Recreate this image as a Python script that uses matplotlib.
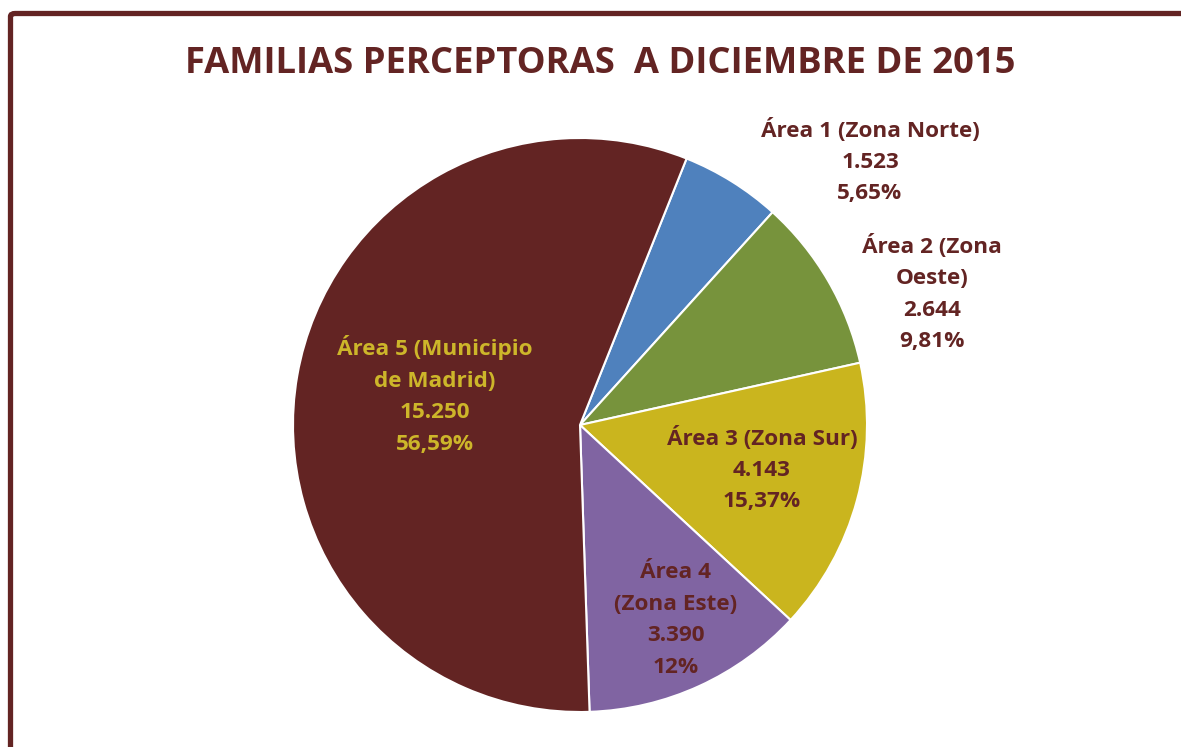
import matplotlib.pyplot as plt
from matplotlib.patches import FancyBboxPatch

plt.rcParams['font.family'] = ['Open Sans', 'DejaVu Sans']

areas = ["Área 1 (Zona Norte)", "Área 2 (Zona\nOeste)", "Área 3 (Zona Sur)",
         "Área 4\n(Zona Este)", "Área 5 (Municipio\nde Madrid)"]
familias = [1523, 2644, 4143, 3390, 15250]
pct_labels = ["5,65%", "9,81%", "15,37%", "12%", "56,59%"]
colores = ["#4F81BD", "#77933C", "#CAB51E", "#8064A2", "#632423"]
txt_colores = ["#632423", "#632423", "#632423", "#632423", "#CDB62A"]
# label centres in pixels (x, y from top)
label_pos = [(870, 161), (932, 293), (762, 469), (676, 620), (435, 395)]

W, H = 1181, 747
fig = plt.figure(figsize=(W / 100, H / 100), dpi=100)

cx, cy, r = 580, 425, 287
ax = fig.add_axes([(cx - r) / W, (H - cy - r) / H, 2 * r / W, 2 * r / H])
ax.pie(familias, colors=colores, startangle=68.2, counterclock=False,
       radius=1, wedgeprops=dict(edgecolor="white", linewidth=1.5))
ax.set_xlim(-1, 1)
ax.set_ylim(-1, 1)
ax.axis("off")

for i in range(len(areas)):
    num = f"{familias[i]:,}".replace(",", ".")
    s = areas[i] + "\n" + num + "\n" + pct_labels[i]
    x, y = label_pos[i]
    fig.text(x / W, 1 - y / H, s, ha="center", va="center", fontsize=16.2,
             fontweight="bold", color=txt_colores[i], linespacing=1.65)

fig.text(600 / W, 1 - 64 / H, "FAMILIAS PERCEPTORAS  A DICIEMBRE DE 2015",
         ha="center", va="center", fontsize=26.2, fontweight="bold", color="#632423")

border = FancyBboxPatch((10.5 / W, -0.1), 1.2, (H - 13.5) / H + 0.1,
                        boxstyle="round,pad=0,rounding_size=0.004",
                        transform=fig.transFigure, fill=False,
                        edgecolor="#632423", linewidth=3.8)
fig.patches.append(border)

fig.savefig("out.png", dpi=100)
